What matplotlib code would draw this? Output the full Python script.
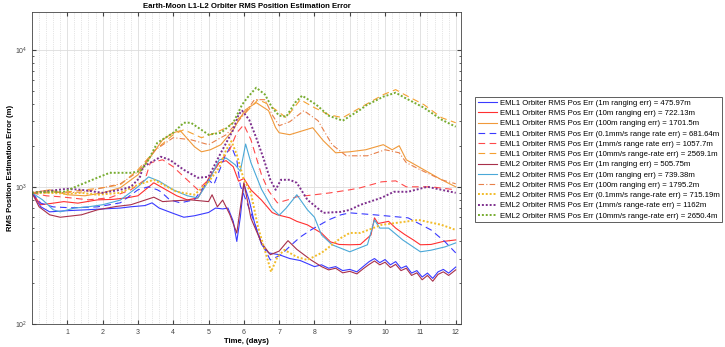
import matplotlib
matplotlib.use("Agg")
import matplotlib.pyplot as plt
from matplotlib.ticker import MultipleLocator, LogLocator, NullFormatter

plt.rcParams['font.family'] = ['Liberation Sans', 'DejaVu Sans']

# ---- data (time in days, RMS error in metres) ----
t_eml1_1m = [0, 0.25, 0.5, 1.0, 1.5, 2.0, 2.5, 2.8, 3.2, 3.4, 3.6, 4.0, 4.3, 4.6, 5.0, 5.2, 5.4, 5.55,
             5.7, 5.8, 5.9, 6.0, 6.15, 6.3, 6.5, 6.7, 7.0, 7.3, 7.6, 8.0, 8.2, 8.4, 8.6, 8.8, 9.0, 9.2,
             9.4, 9.55, 9.7, 9.85, 10.0, 10.15, 10.3, 10.45, 10.6, 10.75, 10.9, 11.05, 11.2, 11.35,
             11.5, 11.65, 11.8, 12.0]
v_eml1_1m = [904, 715, 657, 670, 679, 690, 700, 715, 730, 764, 700, 640, 600, 615, 650, 700, 690, 700,
             560, 400, 600, 1050, 800, 550, 380, 330, 320, 300, 290, 262, 270, 255, 262, 245, 250, 240,
             265, 285, 300, 280, 295, 270, 285, 255, 265, 235, 245, 220, 235, 215, 240, 250, 235, 260]

t_eml2_1m = [0, 0.2, 0.5, 0.8, 1.4, 1.85, 2.4, 2.8, 3.2, 3.45, 3.7, 4.0, 4.5, 5.0, 5.1, 5.25, 5.4,
             5.6, 5.8, 5.9, 6.0, 6.2, 6.5, 6.75, 7.0, 7.25, 7.5, 7.9, 8.2, 8.4, 8.6, 8.8, 9.0, 9.2,
             9.4, 9.55, 9.7, 9.85, 10.0, 10.15, 10.3, 10.45, 10.6, 10.75, 10.9, 11.05, 11.2, 11.35,
             11.5, 11.65, 11.8, 12.0]
v_eml2_1m = [904, 715, 625, 600, 625, 679, 720, 740, 800, 840, 780, 790, 803, 780, 875, 715, 800,
             630, 460, 700, 1070, 590, 390, 320, 340, 405, 350, 293, 262, 248, 255, 236, 242, 232,
             255, 272, 288, 270, 282, 258, 272, 245, 255, 226, 236, 210, 226, 205, 230, 240, 226, 248]

t_eml1_10m = [0, 0.25, 0.6, 0.9, 1.3, 1.85, 2.3, 2.7, 3.0, 3.45, 3.8, 4.1, 4.4, 4.7, 5.0, 5.3, 5.5,
              5.7, 5.85, 6.0, 6.2, 6.5, 6.8, 6.95, 7.3, 7.5, 7.8, 8.2, 8.45, 8.7, 9.0, 9.3, 9.6, 9.7,
              9.8, 10.1, 10.3, 10.55, 10.8, 11.0, 11.3, 11.65, 12.0]
v_eml1_10m = [904, 740, 760, 780, 760, 803, 810, 832, 860, 1070, 950, 860, 803, 830, 1150, 1500, 1550,
              1400, 1100, 1150, 950, 800, 650, 625, 594, 560, 528, 460, 397, 380, 378, 380, 446, 594,
              540, 560, 500, 450, 410, 378, 380, 400, 410]

t_eml2_10m = [0, 0.3, 0.6, 0.8, 1.2, 1.6, 2.0, 2.5, 3.0, 3.3, 3.6, 4.0, 4.4, 4.7, 5.0, 5.3, 5.5,
              5.75, 5.9, 6.05, 6.2, 6.5, 6.8, 7.0, 7.2, 7.5, 7.8, 8.0, 8.2, 8.5, 9.0, 9.5, 9.7, 9.85,
              10.1, 10.5, 11.0, 11.3, 11.7, 12.0]
v_eml2_10m = [904, 803, 680, 657, 700, 715, 740, 800, 1000, 1180, 1100, 950, 860, 830, 1100, 1570, 1620,
              1450, 1300, 2050, 1500, 960, 700, 620, 700, 875, 680, 600, 446, 378, 336, 378, 574, 500,
              500, 410, 336, 345, 365, 390]

t_eml1_100m = [0, 0.5, 1.0, 1.5, 2.0, 2.5, 3.0, 3.4, 3.7, 4.0, 4.2, 4.6, 4.8, 5.05, 5.35, 5.7, 5.9,
               6.05, 6.35, 6.7, 6.9, 7.0, 7.3, 7.95, 8.25, 8.6, 9.0, 9.45, 9.95, 10.2, 10.4, 10.6,
               11.0, 11.6, 12.0]
v_eml1_100m = [904, 951, 875, 860, 904, 984, 1224, 1713, 2203, 2477, 2564, 1960, 1800, 1862, 2028, 2608,
               3190, 3650, 4105, 3590, 2697, 2477, 2398, 2697, 2167, 1770, 1800, 1862, 2028, 1862, 1992,
               1574, 1377, 1125, 1000]

t_eml2_100m = [0, 0.5, 1.0, 1.5, 2.0, 2.5, 3.0, 3.5, 4.0, 4.5, 5.0, 5.5, 6.0, 6.3, 6.6, 6.8, 7.0,
               7.3, 7.7, 8.1, 8.5, 8.9, 9.5, 10.0, 10.4, 10.6, 11.0, 11.6, 12.0]
v_eml2_100m = [904, 920, 904, 920, 984, 1052, 1286, 1862, 2280, 2203, 2028, 2398, 3357, 4316, 4316, 3357,
               2788, 2980, 3590, 3034, 2028, 1683, 1683, 1862, 1770, 1500, 1330, 1125, 1052]

t_eml1_01mms = [0, 0.25, 0.6, 1.1, 1.85, 2.5, 3.0, 3.3, 3.55, 3.65, 3.9, 4.2, 4.6, 5.0, 5.15, 5.45,
                5.6, 5.65, 5.8, 5.9, 6.2, 6.5, 6.75, 7.05, 7.35, 7.6, 7.9, 8.4, 8.75, 9.0, 9.7, 10.65,
                11.3, 11.7, 12.0]
v_eml1_01mms = [904, 760, 714, 703, 714, 764, 951, 1000, 951, 920, 804, 764, 804, 1125, 1035, 1629,
                1927, 1960, 1574, 1017, 646, 390, 293, 319, 378, 431, 485, 574, 625, 646, 625, 594,
                485, 397, 330]

t_eml1_1mms = [0, 0.4, 0.8, 1.6, 2.2, 2.8, 3.2, 3.35, 3.7, 4.0, 4.3, 4.7, 5.0, 5.3, 5.6, 5.8, 6.0,
               6.2, 6.5, 6.7, 6.95, 7.25, 7.5, 8.0, 8.45, 9.0, 9.3, 9.9, 10.3, 10.6, 11.3, 12.0]
v_eml1_1mms = [904, 860, 846, 804, 832, 951, 1125, 1496, 1574, 1400, 1183, 951, 1125, 1496, 1862, 2477,
               2837, 2203, 1224, 935, 764, 804, 846, 875, 904, 951, 984, 1087, 1105, 1000, 1000, 951]

t_eml1_10mms = [0, 0.5, 1.0, 1.5, 2.0, 2.5, 3.0, 3.5, 4.0, 4.3, 4.8, 5.2, 5.5, 6.0, 6.4, 6.6, 6.9,
                7.2, 7.6, 8.0, 8.4, 8.8, 9.3, 9.95, 10.3, 10.55, 11.1, 11.6, 12.0]
v_eml1_10mms = [904, 904, 920, 950, 984, 1035, 1330, 1862, 2398, 2608, 2280, 2477, 2697, 3357, 4316,
                4105, 3650, 3190, 4316, 3774, 3357, 3190, 3774, 4700, 5106, 4700, 3970, 3190, 2931]

t_eml2_01mms = [0, 0.5, 1.0, 1.4, 1.85, 2.5, 3.0, 3.45, 4.1, 4.6, 5.0, 5.3, 5.5, 5.65, 5.8, 6.0, 6.2,
                6.4, 6.7, 6.77, 6.95, 7.15, 7.5, 7.8, 8.2, 8.75, 9.0, 9.3, 9.9, 10.95, 11.6, 12.0]
v_eml2_01mms = [904, 904, 889, 904, 875, 904, 1035, 1125, 920, 875, 1087, 1377, 1862, 2150, 1713, 1125,
                904, 510, 279, 240, 308, 347, 308, 293, 330, 424, 461, 461, 528, 574, 528, 485]

t_eml2_1mms = [0, 0.5, 1.0, 1.4, 2.0, 2.5, 2.8, 3.05, 3.15, 3.65, 3.9, 4.3, 4.7, 5.0, 5.35, 5.7, 5.85,
               5.95, 6.15, 6.35, 6.55, 6.75, 6.9, 7.05, 7.3, 7.5, 7.8, 8.25, 8.75, 9.0, 9.3, 9.9,
               10.25, 10.65, 11.2, 12.0]
v_eml2_1mms = [904, 935, 967, 951, 904, 951, 1000, 1164, 1400, 1656, 1574, 1330, 1164, 1183, 1770, 2608,
               3357, 3590, 3085, 2280, 1629, 1125, 951, 1125, 1125, 1069, 804, 646, 657, 679, 739, 832,
               920, 920, 1000, 904]

t_eml2_10mms = [0, 0.5, 0.9, 1.37, 1.85, 2.2, 2.8, 3.07, 3.3, 3.55, 4.0, 4.3, 4.5, 4.8, 5.0, 5.35, 5.7,
                5.95, 6.1, 6.35, 6.6, 6.8, 7.0, 7.2, 7.45, 7.65, 8.05, 8.4, 8.8, 9.3, 9.45, 9.95, 10.3,
                10.55, 11.1, 11.6, 12.0]
v_eml2_10mms = [904, 920, 920, 1035, 1164, 1265, 1265, 1300, 1574, 2096, 2477, 2931, 2931, 2600, 2398,
                2477, 2931, 3970, 4467, 5280, 4700, 3774, 3300, 3243, 4105, 4616, 3970, 3300, 3034, 3650,
                3903, 4540, 4853, 4467, 3774, 3085, 2742]

labels = [
    'EML1 Orbiter RMS Pos Err (1m ranging err) = 475.97m',
    'EML1 Orbiter RMS Pos Err (10m ranging err) = 722.13m',
    'EML1 Orbiter RMS Pos Err (100m ranging err) = 1701.5m',
    'EML1 Orbiter RMS Pos Err (0.1mm/s range rate err) = 681.64m',
    'EML1 Orbiter RMS Pos Err (1mm/s range rate err) = 1057.7m',
    'EML1 Orbiter RMS Pos Err (10mm/s range-rate err) = 2569.1m',
    'EML2 Orbiter RMS Pos Err (1m ranging err) = 505.75m',
    'EML2 Orbiter RMS Pos Err (10m ranging err) = 739.38m',
    'EML2 Orbiter RMS Pos Err (100m ranging err) = 1795.2m',
    'EML2 Orbiter RMS Pos Err (0.1mm/s range-rate err) = 715.19m',
    'EML2 Orbiter RMS Pos Err (1mm/s range-rate err) = 1162m',
    'EML2 Orbiter RMS Pos Err (10mm/s range-rate err) = 2650.4m',
]

series = [
    (t_eml1_1m, v_eml1_1m, '#3a3aff', '-', 0.8),
    (t_eml1_10m, v_eml1_10m, '#ff3030', '-', 0.8),
    (t_eml1_100m, v_eml1_100m, '#f0993a', '-', 0.8),
    (t_eml1_01mms, v_eml1_01mms, '#3a3aff', (0, (6, 4)), 0.8),
    (t_eml1_1mms, v_eml1_1mms, '#ff4a4a', (0, (6, 4)), 0.8),
    (t_eml1_10mms, v_eml1_10mms, '#f5a030', (0, (6, 4)), 0.8),
    (t_eml2_1m, v_eml2_1m, '#a8304a', '-', 0.8),
    (t_eml2_10m, v_eml2_10m, '#4aa8d8', '-', 0.8),
    (t_eml2_100m, v_eml2_100m, '#e8804a', (0, (5, 2, 1, 2)), 0.8),
    (t_eml2_01mms, v_eml2_01mms, '#f2bc2a', (0, (1, 1)), 1.4),
    (t_eml2_1mms, v_eml2_1mms, '#7e2f8e', (0, (1, 1)), 1.4),
    (t_eml2_10mms, v_eml2_10mms, '#77ac30', (0, (1, 1)), 1.4),
]

fig = plt.figure(figsize=(7.25, 3.47), dpi=100)
ax = fig.add_axes([32 / 725, 23 / 347, 429 / 725, 312 / 347])

for (t, v, c, ls, lw), lab in zip(series, labels):
    ax.plot(t, v, color=c, linestyle=ls, linewidth=lw, label=lab)

ax.set_yscale('log')
ax.set_xlim(0, 12.15)
ax.set_ylim(100, 1.88e4)
ax.xaxis.set_major_locator(MultipleLocator(1))
ax.xaxis.set_minor_locator(MultipleLocator(0.2))
ax.set_xticks(range(1, 13))
ax.yaxis.set_minor_locator(LogLocator(base=10, subs=range(2, 10)))
ax.yaxis.set_minor_formatter(NullFormatter())

ax.grid(True, which='major', color='#dddddd', linewidth=0.6)
ax.grid(True, which='minor', axis='x', color='#cccccc', linestyle=':', linewidth=0.5)
ax.tick_params(which='both', direction='in', top=True, right=True, colors='#444444', labelsize=5)
ax.tick_params(which='major', length=3)
ax.tick_params(which='minor', length=1.5)
ax.tick_params(axis='x', which='minor', length=0)
for s in ax.spines.values():
    s.set_color('#444444')
    s.set_linewidth(0.6)

ax.set_title('Earth-Moon L1-L2 Orbiter RMS Position Estimation Error', fontsize=5.6, fontweight='bold', pad=3)
ax.set_xlabel('Time, (days)', fontsize=5.6, fontweight='bold', labelpad=1.5)
ax.set_ylabel('RMS Position Estimation Error (m)', fontsize=5.6, fontweight='bold')
ax.yaxis.set_label_coords(-0.042, 0.5)

leg = ax.legend(loc='center left', bbox_to_anchor=(1.033, 0.527), borderaxespad=0, fontsize=5.6,
                fancybox=False, edgecolor='#444444', framealpha=1, handlelength=2.5,
                labelspacing=0.36, borderpad=0.35, handletextpad=0.3)
leg.get_frame().set_linewidth(0.6)

fig.savefig('out.png', dpi=100)
